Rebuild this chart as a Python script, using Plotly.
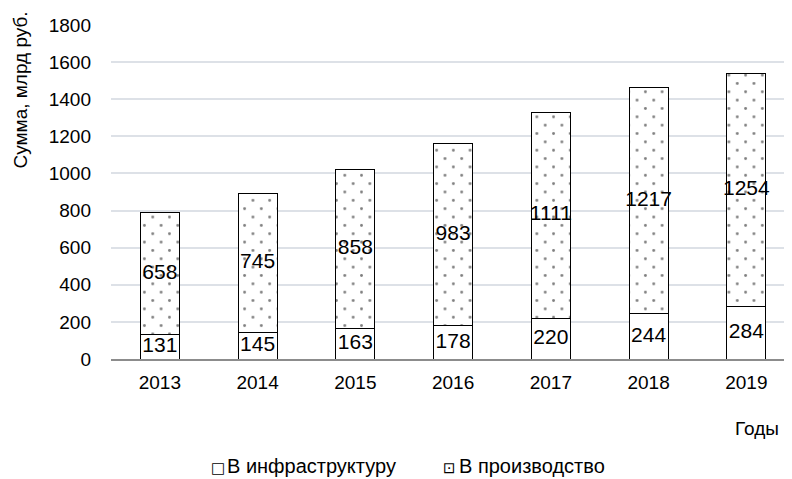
import plotly.graph_objects as go

years = ["2013", "2014", "2015", "2016", "2017", "2018", "2019"]
infra = [131, 145, 163, 178, 220, 244, 284]
prod = [658, 745, 858, 983, 1111, 1217, 1254]
yticks = [0, 200, 400, 600, 800, 1000, 1200, 1400, 1600, 1800]
legend_names = ["В инфраструктуру", "В производство"]

FONT = "Liberation Sans, Arial"
SYM = "DejaVu Sans"

# figure geometry (page has an 8px body margin)
W_FIG, H_FIG = 784, 471
L, R, T, B = 103, 0, 17, 120
PW, PH = W_FIG - L - R, H_FIG - T - B
XSPAN = 6.967
YMAX = 1800
TILE = 16.7
D = TILE / 2  # half-tile shift for staggered dots
u = XSPAN / PW
v = YMAX / PH

dot = dict(shape=".", fgcolor="black", size=TILE, solidity=0.024, fillmode="overlay")

fig = go.Figure()
fig.add_trace(go.Bar(
    x=years, y=infra, name=legend_names[0],
    marker=dict(color="white", line=dict(color="black", width=1)),
    width=0.4,
))
fig.add_trace(go.Bar(
    x=years, y=prod, name=legend_names[1],
    marker=dict(color="white", line=dict(color="black", width=1),
                pattern=dict(bgcolor="white", **dot)),
    width=0.4,
))
# second, offset dot layer (staggered lattice)
fig.add_trace(go.Bar(
    x=years, y=prod, base=infra, xaxis="x2", yaxis="y2",
    marker=dict(color="rgba(0,0,0,0)", line=dict(width=0),
                pattern=dict(bgcolor="rgba(0,0,0,0)", **dot)),
    width=0.4, showlegend=False, hoverinfo="skip",
))
# value labels centred in each segment
fig.add_trace(go.Scatter(
    x=years, y=[a / 2 for a in infra], text=[str(a) for a in infra],
    xaxis="x2", yaxis="y2",
    mode="text", textfont=dict(family=FONT, size=21, color="black"),
    showlegend=False, hoverinfo="skip",
))
fig.add_trace(go.Scatter(
    x=years, y=[a + p / 2 for a, p in zip(infra, prod)], text=[str(p) for p in prod],
    xaxis="x2", yaxis="y2",
    mode="text", textfont=dict(family=FONT, size=21, color="black"),
    showlegend=False, hoverinfo="skip",
))

def px_x(page_x):
    return (page_x - 8 - L) / PW

def px_y(page_y):
    return ((T + PH) - (page_y - 8)) / PH

annotations = [
    dict(text="Сумма, млрд руб.", textangle=-90, xref="paper", yref="paper",
         x=px_x(20), y=px_y(9), xanchor="center", yanchor="top", showarrow=False,
         font=dict(family=FONT, size=19)),
    dict(text="Годы", xref="paper", yref="paper", x=px_x(757), y=px_y(428),
         xanchor="center", yanchor="middle", showarrow=False, font=dict(family=FONT, size=19)),
]
leg_sym = ["□", "⊡"]
leg_sym_x = [209, 441]
leg_txt_x = [225, 457]
for s, n, sx, tx in zip(leg_sym, legend_names, leg_sym_x, leg_txt_x):
    annotations.append(dict(text=s, xref="paper", yref="paper", x=px_x(sx), y=px_y(468),
                            xanchor="left", yanchor="middle", showarrow=False,
                            font=dict(family=SYM, size=15)))
    annotations.append(dict(text=n, xref="paper", yref="paper", x=px_x(tx), y=px_y(466),
                            xanchor="left", yanchor="middle", showarrow=False,
                            font=dict(family=FONT, size=20)))

fig.update_layout(
    barmode="stack",
    width=W_FIG, height=H_FIG,
    margin=dict(l=L, r=R, t=T, b=B),
    paper_bgcolor="white", plot_bgcolor="rgba(0,0,0,0)",
    font=dict(family=FONT, size=19, color="black"),
    showlegend=False,
    xaxis=dict(range=[-0.5, -0.5 + XSPAN], showline=True, linecolor="#8c8c8c", linewidth=1.5,
               ticks="", tickfont=dict(size=19), showgrid=False, ticklabelstandoff=5),
    yaxis=dict(range=[0, YMAX], tickvals=yticks, showgrid=True, gridcolor="#dde1e7",
               gridwidth=1.5, zeroline=False, ticks="", tickfont=dict(size=19),
               ticklabelstandoff=19),
    xaxis2=dict(domain=[D / PW, 1], range=[-0.5 + D * u, -0.5 + XSPAN], visible=False,
                anchor="y2", showgrid=False),
    yaxis2=dict(domain=[0, 1 - D / PH], range=[0, YMAX - D * v], visible=False,
                anchor="x2", showgrid=False, zeroline=False),
    annotations=annotations,
)

fig.write_html("out.html")
